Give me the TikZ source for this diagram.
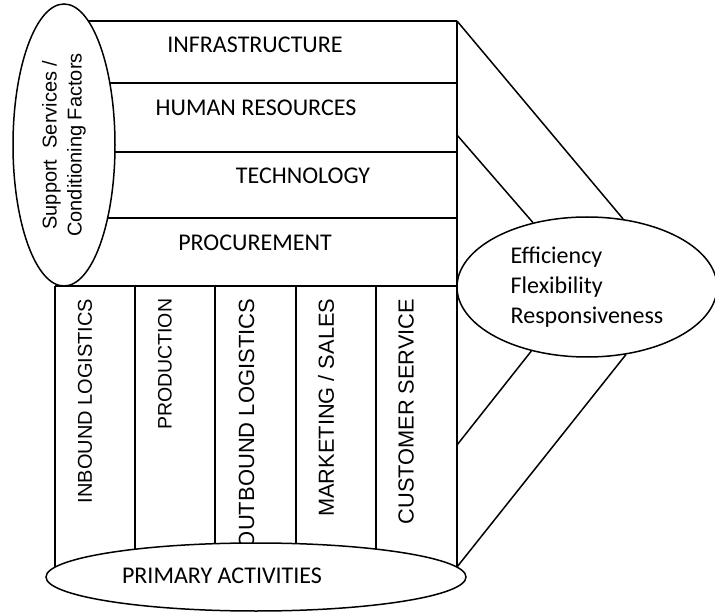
\documentclass[tikz,border=0pt]{standalone}
\usepackage{fontspec}
\setmainfont{Carlito}
\newfontfamily\arialf{Liberation Sans}
\usetikzlibrary{shapes.geometric}
\begin{document}
\begin{tikzpicture}[x=1pt,y=-1pt, line width=1.5pt,
  calib/.style={font=\fontsize{24}{30}\selectfont, inner sep=0pt},
  vert/.style={font=\arialf\fontsize{#1}{24}\selectfont, rotate=90, anchor=east, inner sep=0pt},
  vert/.default=20,
  oval/.style={ellipse, draw, fill=white, inner sep=0pt}]
\useasboundingbox (0,0) rectangle (715,612);
% support rows
\draw (64,21) -- (457,21);
\draw (64,83) -- (457,83);
\draw (64,152) -- (457,152);
\draw (64,218) -- (457,218);
\draw (55,286) -- (457,286);
% columns
\draw (55,286) -- (55,577);
\draw (135,286) -- (135,577);
\draw (215,286) -- (215,577);
\draw (296,286) -- (296,577);
\draw (376,286) -- (376,577);
\draw (457,21) -- (457,577);
% row texts
\node[calib] (infra) at (255,45) {INFRASTRUCTURE};
\node[calib] (hr) at (256,107.5) {HUMAN RESOURCES};
\node[calib] (tech) at (303,176) {TECHNOLOGY};
\node[calib] (proc) at (255,242.5) {PROCUREMENT};
% column texts
\node[vert=20] (inb) at (85,298) {INBOUND LOGISTICS};
\node[vert=19.5] (prod) at (165,298) {PRODUCTION};
\node[vert=22] (outb) at (246.5,298) {OUTBOUND LOGISTICS};
\node[vert=21.8] (mkt) at (326,298) {MARKETING / SALES};
\node[vert=21.8] (cs) at (406,298) {CUSTOMER SERVICE};
% ellipses
\node[oval, rotate=90, minimum width=282, minimum height=102, align=center,
      font=\arialf\fontsize{20}{25}\selectfont] (S) at (64,145)
      {Support\ \ Services /\\Conditioning Factors};
\node[oval, minimum width=420, minimum height=68] (P) at (256,577) {};
\node[calib] (ptext) at (222,576) {PRIMARY ACTIVITIES};
\node[oval, minimum width=260, minimum height=140, align=left,
      font=\fontsize{24}{30}\selectfont] (E) at (587,287)
      {Efficiency\\Flexibility\\Responsiveness};
% connectors to outcome ellipse
\coordinate (c1) at (457,21);
\coordinate (c2) at (457,135);
\coordinate (c3) at (457,445);
\coordinate (c4) at (457,567);
\draw (c1) -- (E.62.4);
\draw (c2) -- (E.130);
\draw (c3) -- (E.229.4);
\draw (c4) -- (E.300.5);
\end{tikzpicture}
\end{document}
